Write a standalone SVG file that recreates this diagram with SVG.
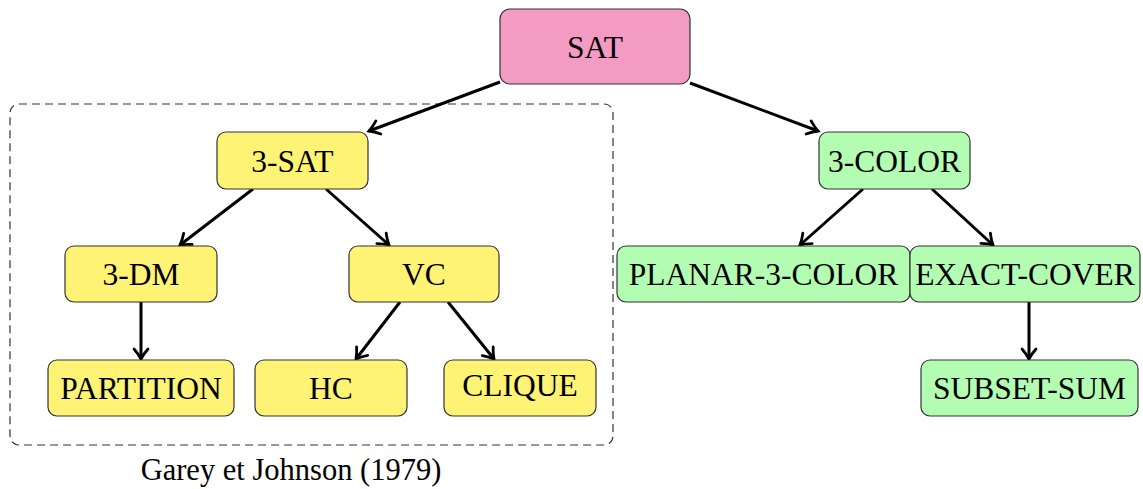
<svg xmlns="http://www.w3.org/2000/svg" width="1143" height="489" viewBox="0 0 1143 489">
<style>
.n rect{stroke:#333;stroke-width:1.2}
.pink rect{fill:#f39bc3}
.yel rect{fill:#fef375}
.grn rect{fill:#b3fdb3}
text{font-family:"Liberation Serif","Times New Roman",serif;font-size:31.5px;fill:#000;text-anchor:middle}
.e line{stroke:#000;stroke-width:3;marker-end:url(#ah)}
</style>
<defs>
<marker id="ah" markerUnits="userSpaceOnUse" markerWidth="24" markerHeight="24" viewBox="-12 -12 24 24" refX="0" refY="0" orient="auto" overflow="visible">
<path d="M -10,-7 C -6,-3.5 -2,-1 0,0 C -2,1 -6,3.5 -10,7" fill="none" stroke="#000" stroke-width="2.8" stroke-linecap="round"/>
</marker>
</defs>
<rect id="group-box" x="10" y="104" width="603" height="341" rx="9" fill="none" stroke="#333" stroke-width="1.2" stroke-dasharray="8,5"/>
<text x="291" y="480" style="font-size:30.5px">Garey et Johnson (1979)</text>
<g class="e" id="connectors">
<line x1="500" y1="82" x2="369" y2="131"/>
<line x1="690" y1="83" x2="818" y2="131"/>
<line x1="253" y1="189" x2="180" y2="245"/>
<line x1="326" y1="189" x2="389" y2="245"/>
<line x1="141" y1="302" x2="141" y2="359"/>
<line x1="400" y1="302" x2="356" y2="359"/>
<line x1="448" y1="302" x2="494" y2="359"/>
<line x1="863" y1="189" x2="800" y2="245"/>
<line x1="932" y1="189" x2="993" y2="245"/>
<line x1="1029" y1="302" x2="1029" y2="359"/>
</g>
<g id="SAT" class="n pink"><rect x="500" y="9" width="190" height="75" rx="10"/><text x="595" y="58">SAT</text></g>
<g id="3-SAT" class="n yel"><rect x="217" y="132" width="151" height="57" rx="9"/><text x="292.5" y="172">3-SAT</text></g>
<g id="3-DM" class="n yel"><rect x="65" y="246" width="152" height="56" rx="9"/><text x="141" y="285">3-DM</text></g>
<g id="VC" class="n yel"><rect x="349" y="246" width="150" height="56" rx="9"/><text x="424" y="285">VC</text></g>
<g id="PARTITION" class="n yel"><rect x="48" y="360" width="186" height="56" rx="9"/><text x="141" y="399">PARTITION</text></g>
<g id="HC" class="n yel"><rect x="255" y="360" width="152" height="56" rx="9"/><text x="331" y="399">HC</text></g>
<g id="CLIQUE" class="n yel"><rect x="444" y="360" width="152" height="56" rx="9"/><text x="520" y="396">CLIQUE</text></g>
<g id="3-COLOR" class="n grn"><rect x="819" y="132" width="151" height="57" rx="9"/><text x="894.5" y="172">3-COLOR</text></g>
<g id="PLANAR-3-COLOR" class="n grn"><rect x="617" y="246" width="293" height="56" rx="9"/><text x="763.5" y="285">PLANAR-3-COLOR</text></g>
<g id="EXACT-COVER" class="n grn"><rect x="910" y="246" width="230" height="56" rx="9"/><text x="1025" y="285">EXACT-COVER</text></g>
<g id="SUBSET-SUM" class="n grn"><rect x="921" y="360" width="217" height="56" rx="9"/><text x="1029.5" y="399">SUBSET-SUM</text></g>
</svg>
